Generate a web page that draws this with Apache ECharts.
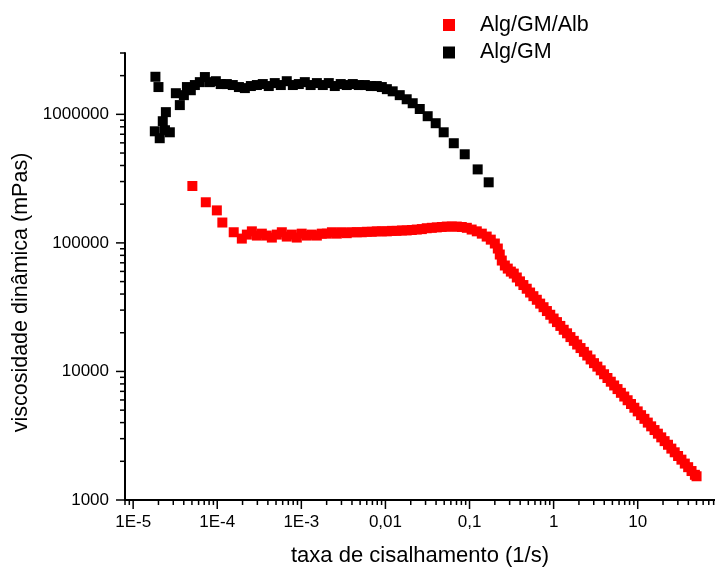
<!DOCTYPE html>
<html>
<head>
<meta charset="utf-8">
<script src="https://cdn.jsdelivr.net/npm/echarts@6/dist/echarts.min.js"></script>
<style>
html,body{margin:0;padding:0;background:#fff;}
#chart{width:715px;height:567px;}
</style>
</head>
<body>
<div id="chart"></div>
<script>
// ---- data ----
const seriesNames = ['Alg/GM/Alb', 'Alg/GM'];

const redX = [5.06e-5, 7.31e-5, 9.89e-5, 1.15e-4, 1.57e-4, 1.96e-4, 2.25e-4, 2.58e-4, 2.96e-4, 3.39e-4,
  3.88e-4, 4.46e-4, 5.11e-4, 5.86e-4, 6.71e-4, 7.71e-4, 8.83e-4, 1.01e-3, 1.16e-3, 1.33e-3,
  1.53e-3, 1.75e-3, 2.01e-3, 2.31e-3, 2.64e-3, 3.03e-3, 3.47e-3, 3.98e-3, 4.57e-3, 5.24e-3,
  6.01e-3, 6.89e-3, 7.89e-3, 9.06e-3, 1.04e-2, 1.19e-2, 1.36e-2, 1.57e-2, 1.79e-2, 2.06e-2,
  2.36e-2, 2.71e-2, 3.10e-2, 3.56e-2, 4.08e-2, 4.68e-2, 5.37e-2, 6.15e-2, 7.06e-2, 8.09e-2,
  9.29e-2, 0.106, 0.122, 0.140, 0.160, 0.179, 0.200, 0.217, 0.229, 0.242,
  0.263, 0.285, 0.310, 0.336, 0.365, 0.398, 0.437, 0.479, 0.525, 0.575,
  0.631, 0.692, 0.759, 0.832, 0.912, 1.00, 1.096, 1.202, 1.318, 1.445,
  1.585, 1.738, 1.905, 2.089, 2.291, 2.512, 2.754, 3.020, 3.311, 3.631,
  3.981, 4.365, 4.786, 5.248, 5.754, 6.310, 6.918, 7.586, 8.318, 9.120,
  10.0, 10.96, 12.02, 13.18, 14.45, 15.85, 17.38, 19.05, 20.89, 22.91,
  25.12, 27.54, 30.20, 33.11, 36.31, 39.81, 43.65, 47.86, 50.1];
const redY = [2.77e5, 2.07e5, 1.79e5, 1.44e5, 1.21e5, 1.08e5, 1.16e5, 1.23e5, 1.14e5, 1.18e5,
  1.14e5, 1.10e5, 1.16e5, 1.21e5, 1.12e5, 1.16e5, 1.10e5, 1.18e5, 1.14e5, 1.16e5,
  1.14e5, 1.18e5, 1.18e5, 1.21e5, 1.18e5, 1.21e5, 1.19e5, 1.21e5, 1.21e5, 1.21e5,
  1.22e5, 1.22e5, 1.23e5, 1.23e5, 1.23e5, 1.24e5, 1.24e5, 1.25e5, 1.25e5, 1.26e5,
  1.27e5, 1.28e5, 1.30e5, 1.31e5, 1.32e5, 1.33e5, 1.34e5, 1.34e5, 1.34e5, 1.33e5,
  1.31e5, 1.27e5, 1.23e5, 1.18e5, 1.12e5, 1.06e5, 9.89e4, 9.04e4, 8.12e4, 7.29e4,
  6.67e4, 6.31e4, 5.98e4, 5.77e4, 5.38e4, 5.02e4, 4.70e4, 4.40e4, 4.11e4, 3.85e4,
  3.61e4, 3.37e4, 3.16e4, 2.95e4, 2.76e4, 2.58e4, 2.42e4, 2.26e4, 2.11e4, 1.98e4,
  1.85e4, 1.73e4, 1.62e4, 1.52e4, 1.42e4, 1.33e4, 1.24e4, 1.16e4, 1.09e4, 1.02e4,
  9510, 8890, 8320, 7780, 7290, 6820, 6380, 5970, 5580, 5220,
  4890, 4570, 4280, 4000, 3740, 3500, 3280, 3070, 2870, 2690,
  2510, 2350, 2200, 2060, 1920, 1800, 1680, 1570, 1530];

const blackX = [1.84e-5, 2.00e-5, 1.81e-5, 2.07e-5, 2.39e-5, 2.73e-5, 2.25e-5, 2.45e-5, 3.22e-5, 3.59e-5,
  4.01e-5, 4.36e-5, 4.85e-5, 5.42e-5, 6.21e-5, 7.13e-5, 8.17e-5, 9.62e-5, 1.10e-4, 1.30e-4,
  1.53e-4, 1.81e-4, 2.13e-4, 2.51e-4, 2.96e-4, 3.48e-4, 4.10e-4, 4.83e-4, 5.70e-4, 6.71e-4,
  7.92e-4, 9.33e-4, 1.10e-3, 1.29e-3, 1.53e-3, 1.80e-3, 2.12e-3, 2.50e-3, 2.94e-3, 3.47e-3,
  4.09e-3, 4.82e-3, 5.69e-3, 6.70e-3, 7.89e-3, 9.06e-3, 1.04e-2, 1.22e-2, 1.48e-2, 1.79e-2,
  2.11e-2, 2.56e-2, 3.18e-2, 3.96e-2, 4.93e-2, 6.50e-2, 8.77e-2, 0.125, 0.169];
const blackY = [1.96e6, 1.63e6, 7.38e5, 6.52e5, 7.52e5, 7.25e5, 8.84e5, 1.04e6, 1.46e6, 1.18e6,
  1.41e6, 1.63e6, 1.54e6, 1.69e6, 1.78e6, 1.95e6, 1.78e6, 1.81e6, 1.72e6, 1.72e6,
  1.69e6, 1.63e6, 1.60e6, 1.66e6, 1.69e6, 1.72e6, 1.66e6, 1.75e6, 1.69e6, 1.81e6,
  1.69e6, 1.72e6, 1.78e6, 1.69e6, 1.75e6, 1.69e6, 1.75e6, 1.66e6, 1.72e6, 1.69e6,
  1.72e6, 1.69e6, 1.69e6, 1.66e6, 1.66e6, 1.63e6, 1.57e6, 1.51e6, 1.41e6, 1.31e6,
  1.22e6, 1.10e6, 9.67e5, 8.53e5, 7.25e5, 5.96e5, 4.89e5, 3.73e5, 2.96e5];

// tick values
const xMajorTicks = [1e-5, 1e-4, 1e-3, 1e-2, 1e-1, 1, 10];
const xTickLabels = ['1E-5', '1E-4', '1E-3', '0,01', '0,1', '1', '10'];
const yMajorTicks = [1000, 10000, 100000, 1000000];
const yTickLabels = ['1000', '10000', '100000', '1000000'];
const minorMultipliers = [2, 3, 4, 5, 6, 7, 8, 9];

const X_MIN = 8e-6, X_MAX = 83;
const Y_MIN = 1000, Y_MAX = 3e6;

// ---- build ----
function zip(a, b) { return a.map((v, i) => [v, b[i]]); }
const xMinor = [8e-6, 9e-6];
[-5, -4, -3, -2, -1, 0, 1].forEach(e => minorMultipliers.forEach(m => {
  const v = m * Math.pow(10, e); if (v <= X_MAX) xMinor.push(v);
}));
const yMinor = [];
[3, 4, 5, 6].forEach(e => minorMultipliers.forEach(m => {
  const v = m * Math.pow(10, e); if (v <= Y_MAX * 1.0001) yMinor.push(v);
}));

const xTickData = xMajorTicks.map(v => [v, Y_MIN, 1]).concat(xMinor.map(v => [v, Y_MIN, 0]));
const yTickData = yMajorTicks.map(v => [X_MIN, v, 1]).concat(yMinor.map(v => [X_MIN, v, 0]));

function labelFor(ticks, labels) {
  return function (v) {
    for (let i = 0; i < ticks.length; i++) {
      if (Math.abs(Math.log10(v) - Math.log10(ticks[i])) < 1e-6) return labels[i];
    }
    return '';
  };
}

const FONT = 'Liberation Sans, Arial, Helvetica, sans-serif';
const chart = echarts.init(document.getElementById('chart'), null, { renderer: 'canvas' });
chart.setOption({
  animation: false,
  backgroundColor: '#ffffff',
  grid: { left: 125, top: 53, right: 0, bottom: 67, containLabel: false, outerBoundsMode: 'none' },
  legend: {
    data: seriesNames,
    orient: 'vertical',
    left: 438, top: 9,
    itemWidth: 12, itemHeight: 12,
    itemGap: 5.5,
    icon: 'rect',
    textStyle: { fontFamily: FONT, fontSize: 21.5, color: '#000', padding: [0, 0, 0, 20], lineHeight: 22 }
  },
  xAxis: {
    type: 'log', logBase: 10, min: X_MIN, max: X_MAX,
    name: 'taxa de cisalhamento (1/s)', nameLocation: 'middle', nameGap: 45,
    nameTextStyle: { fontFamily: FONT, fontSize: 22, color: '#000' },
    axisLine: { show: true, onZero: false, lineStyle: { color: '#000', width: 2 } },
    axisTick: { show: false },
    splitLine: { show: false },
    axisLabel: { show: true, margin: 14, fontFamily: FONT, fontSize: 17, color: '#000',
      showMinLabel: false, showMaxLabel: false, formatter: labelFor(xMajorTicks, xTickLabels) }
  },
  yAxis: {
    type: 'log', logBase: 10, min: Y_MIN, max: Y_MAX,
    name: 'viscosidade dinâmica (mPas)', nameLocation: 'middle', nameGap: 92,
    nameTextStyle: { fontFamily: FONT, fontSize: 21.5, color: '#000', padding: [0, 32, 0, 0] },
    axisLine: { show: true, onZero: false, lineStyle: { color: '#000', width: 2 } },
    axisTick: { show: false },
    splitLine: { show: false },
    axisLabel: { show: true, margin: 16, fontFamily: FONT, fontSize: 17, color: '#000',
      showMinLabel: true, showMaxLabel: false, formatter: labelFor(yMajorTicks, yTickLabels) }
  },
  series: [
    {
      name: seriesNames[0], type: 'scatter', data: zip(redX, redY),
      symbol: 'rect', symbolSize: 10, itemStyle: { color: '#ff0000', opacity: 1 }, z: 3
    },
    {
      name: seriesNames[1], type: 'scatter', data: zip(blackX, blackY),
      symbol: 'rect', symbolSize: 10, itemStyle: { color: '#000000', opacity: 1 }, z: 3
    },
    {
      type: 'custom', name: 'xticks', data: xTickData, clip: false, silent: true, z: 5,
      renderItem: function (params, api) {
        const p = api.coord([api.value(0), api.value(1)]);
        const len = api.value(2) ? 9 : 5;
        return { type: 'line', shape: { x1: p[0], y1: p[1], x2: p[0], y2: p[1] + len },
          style: { stroke: '#000', lineWidth: 1.5 } };
      }
    },
    {
      type: 'custom', name: 'yticks', data: yTickData, clip: false, silent: true, z: 5,
      renderItem: function (params, api) {
        const p = api.coord([api.value(0), api.value(1)]);
        const len = api.value(2) ? 9 : 5;
        return { type: 'line', shape: { x1: p[0], y1: p[1], x2: p[0] - len, y2: p[1] },
          style: { stroke: '#000', lineWidth: 1.5 } };
      }
    }
  ]
});
</script>
</body>
</html>
